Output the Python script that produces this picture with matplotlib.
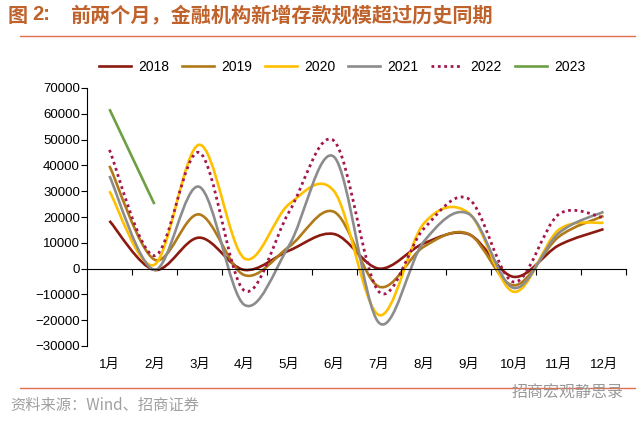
import numpy as np
import matplotlib.pyplot as plt
from matplotlib.path import Path
from matplotlib.patches import PathPatch
from matplotlib.lines import Line2D

plt.rcParams['font.family'] = ['Liberation Sans', 'Noto Sans CJK SC', 'DejaVu Sans']

months = ['1月', '2月', '3月', '4月', '5月', '6月', '7月', '8月', '9月', '10月', '11月', '12月']
y2018 = [18500, -500, 12000, -500, 7000, 13400, 0, 9800, 13300, -3200, 9000, 15300]
y2019 = [39800, 3500, 21000, -2500, 8500, 22000, -7000, 8500, 13400, -6500, 12300, 20400]
y2020 = [30000, 1500, 48000, 4000, 25000, 30000, -18000, 17500, 21500, -9000, 15000, 17800]
y2021 = [35900, -500, 31700, -14000, 9000, 43300, -21000, 10500, 21200, -7500, 13700, 22000]
y2022 = [46000, 5000, 45000, -8500, 22000, 49500, -9000, 15500, 27000, -5200, 21000, 19800]
y2023 = [61800, 25000]

years = ['2018', '2019', '2020', '2021', '2022', '2023']
series = [y2018, y2019, y2020, y2021, y2022, y2023]
colors = ['#8B1A10', '#B07A18', '#FFC000', '#8C8C8C', '#A3174D', '#6E9F45']
styles = ['-', '-', '-', '-', (0, (1, 1.3)), '-']


def smooth_path(xs, ys):
    # catmull-rom style bezier, like excel's smoothed line
    pts = np.column_stack([xs, ys]).astype(float)
    n = len(pts)
    verts = [pts[0]]
    codes = [Path.MOVETO]
    for i in range(n - 1):
        p0 = pts[i - 1] if i > 0 else pts[i]
        p1 = pts[i]
        p2 = pts[i + 1]
        p3 = pts[i + 2] if i + 2 < n else pts[i + 1]
        verts += [p1 + (p2 - p0) / 6, p2 - (p3 - p1) / 6, p2]
        codes += [Path.CURVE4] * 3
    return Path(verts, codes)


fig = plt.figure(figsize=(6.4, 4.22), dpi=100)
ax = fig.add_axes([87/640, 1-346/422, (626-87)/640, (346-88)/422])

handles = []
for yr, ys, c, ls in zip(years, series, colors, styles):
    xs = np.arange(len(ys))
    lw = 2.0 if yr == '2022' else 1.9
    ax.add_patch(PathPatch(smooth_path(xs, ys), fill=False, edgecolor=c, lw=lw,
                           linestyle=ls, capstyle='butt'))
    handles.append(Line2D([], [], color=c, lw=lw, linestyle=ls))

ax.set_xlim(-0.5, 11.5)
ax.set_ylim(-30000, 70000)
ax.set_yticks(np.arange(-30000, 70001, 10000))
ax.tick_params(axis='y', direction='out', length=4, width=0.8, labelsize=9.5, pad=1)
for s in ['top', 'right']:
    ax.spines[s].set_visible(False)
ax.spines['left'].set_linewidth(0.8)
ax.spines['bottom'].set_position(('data', 0))
ax.spines['bottom'].set_linewidth(0.8)
ax.set_xticks(np.arange(0.5, 12, 1))
ax.set_xticklabels([])
ax.tick_params(axis='x', direction='out', length=4, width=0.8)

sec = ax.secondary_xaxis('bottom')
sec.set_xticks(np.arange(12))
sec.set_xticklabels(months, fontsize=9.5)
sec.tick_params(length=0, pad=9)
sec.spines['bottom'].set_visible(False)

fig.legend(handles, years, loc='center', bbox_to_anchor=(342/640, 1-67/422), ncol=6,
           frameon=False, fontsize=10, handlelength=2.3, columnspacing=0.95, handletextpad=0.5)

fig.text(8/640, 1-15/422, '图', fontsize=14.5, color='#C0622B',
         family=['Noto Sans CJK SC'], fontweight='bold', va='center')
fig.text(32/640, 1-15/422, '2:', fontsize=14.5, color='#C0622B', fontweight='bold', va='center')
fig.text(70/640, 1-15/422, '前两个月，金融机构新增存款规模超过历史同期', fontsize=14.5,
         color='#C0622B', family=['Noto Sans CJK SC'], fontweight='bold', va='center')
fig.add_artist(Line2D([20/640, 635/640], [1-36/422, 1-36/422], color='#E07050', lw=1.0))
fig.add_artist(Line2D([20/640, 635/640], [1-388/422, 1-388/422], color='#E07050', lw=1.0))
fig.text(10/640, 1-405/422, '资料来源：Wind、招商证券', fontsize=11, color='#A0A0A0',
         family=['Noto Sans CJK SC', 'DejaVu Sans'], va='center')
fig.text(512/640, 1-393/422, '招商宏观静思录', fontsize=11.5, color='#9A9A9A',
         family=['Noto Sans CJK SC'], va='center')

fig.savefig('out.png', dpi=100)
